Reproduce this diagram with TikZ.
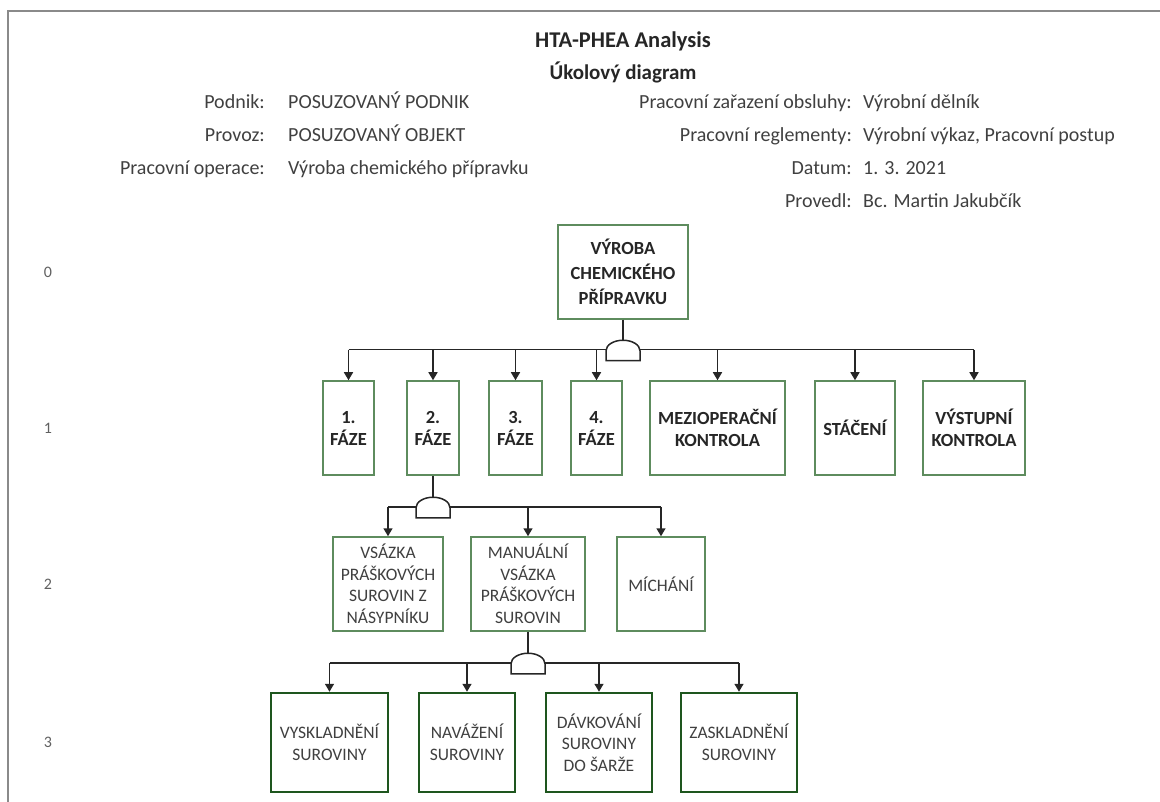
\documentclass[tikz,border=0pt]{standalone}
\usepackage{fontspec}
\setmainfont{Carlito}
\usetikzlibrary{arrows.meta}

\definecolor{boxgreen}{HTML}{5E8C5E}
\definecolor{darkgreen}{HTML}{1E561E}
\definecolor{txt}{HTML}{404040}
\definecolor{txtdark}{HTML}{262626}
\definecolor{framegray}{HTML}{8A8A8A}
\definecolor{wirecol}{HTML}{262626}
\definecolor{levelgray}{HTML}{606060}

\tikzset{
  lbl/.style={anchor=base east, text=txt, font=\fontsize{20}{24}\selectfont, inner sep=0pt},
  val/.style={anchor=base west, text=txt, font=\fontsize{20}{24}\selectfont, inner sep=0pt},
  ttl/.style={anchor=base, text=txtdark, font=\bfseries\fontsize{22.5}{26}\selectfont, inner sep=0pt},
  levelno/.style={text=levelgray, font=\fontsize{16}{19}\selectfont, inner sep=0pt},
  task/.style={draw=boxgreen, line width=1.5pt, fill=white, align=center, inner sep=0pt},
  taskbold/.style={task, text=txtdark, font=\bfseries\fontsize{18.5}{22}\selectfont},
  taskplain/.style={task, text=txt, font=\fontsize{17.5}{21.5}\selectfont},
  leaf/.style={taskplain, draw=darkgreen, line width=2.5pt},
  wire/.style={draw=wirecol, line width=1.5pt},
  arr/.style={wire, -{Triangle[width=9pt,length=8pt]}},
  andgate/.pic={
    \draw[wire, fill=white] (-17,11) -- (-17,1)
      arc[start angle=180, end angle=360, x radius=17, y radius=10.5]
      -- (17,11) -- cycle;
  },
}

\begin{document}
\begin{tikzpicture}[x=1pt, y=-1pt]
  \useasboundingbox (0,0) rectangle (1160,802);

  % page frame (top and left edges)
  \draw[framegray, line width=2pt] (8,802) -- (8,11.5) -- (1160,11.5);

  % heading
  \node[ttl] (title) at (623,48) {HTA-PHEA Analysis};
  \node[ttl, font=\bfseries\fontsize{21}{25}\selectfont] (subtitle) at (623,80) {Úkolový diagram};

  % header fields, left column
  \node[lbl] (l1) at (265,109) {Podnik:};
  \node[val] (v1) at (288,109) {POSUZOVANÝ PODNIK};
  \node[lbl] (l2) at (265,142) {Provoz:};
  \node[val] (v2) at (288,142) {POSUZOVANÝ OBJEKT};
  \node[lbl] (l3) at (265,175) {Pracovní operace:};
  \node[val] (v3) at (288,175) {Výroba chemického přípravku};

  % header fields, right column
  \node[lbl] (r1) at (852,109) {Pracovní zařazení obsluhy:};
  \node[val] (w1) at (863,109) {Výrobní dělník};
  \node[lbl] (r2) at (852,142) {Pracovní reglementy:};
  \node[val] (w2) at (863,142) {Výrobní výkaz, Pracovní postup};
  \node[lbl] (r3) at (852,175) {Datum:};
  \node[val] (w3) at (863,175) {1. 3. 2021};
  \node[lbl] (r4) at (852,208) {Provedl:};
  \node[val] (w4) at (863,208) {Bc. Martin Jakubčík};

  % level numbers
  \node[levelno] (n0) at (48,272) {0};
  \node[levelno] (n1) at (48,428) {1};
  \node[levelno] (n2) at (48,584) {2};
  \node[levelno] (n3) at (48,742) {3};

  % level 0
  \node[taskbold, font=\bfseries\fontsize{18.5}{25}\selectfont,
        minimum width=130pt, minimum height=94pt] (root) at (623,272)
    {VÝROBA\\CHEMICKÉHO\\PŘÍPRAVKU};

  % level 1
  \node[taskbold, minimum width=51pt,  minimum height=94pt] (f1)   at (348.5,428) {1.\\FÁZE};
  \node[taskbold, minimum width=52pt,  minimum height=94pt] (f2)   at (433,428)   {2.\\FÁZE};
  \node[taskbold, minimum width=53pt,  minimum height=94pt] (f3)   at (515.5,428) {3.\\FÁZE};
  \node[taskbold, minimum width=51pt,  minimum height=94pt] (f4)   at (596.5,428) {4.\\FÁZE};
  \node[taskbold, minimum width=135pt, minimum height=94pt] (mezi) at (717.5,428) {MEZIOPERAČNÍ\\KONTROLA};
  \node[taskbold, minimum width=80pt,  minimum height=94pt] (stac) at (855,428)   {STÁČENÍ};
  \node[taskbold, minimum width=102pt, minimum height=94pt] (vyst) at (974,428)   {VÝSTUPNÍ\\KONTROLA};

  % level 2
  \node[taskplain, minimum width=110pt, minimum height=94pt] (vsaz) at (388,584) {VSÁZKA\\PRÁŠKOVÝCH\\SUROVIN Z\\NÁSYPNÍKU};
  \node[taskplain, minimum width=114pt, minimum height=94pt] (manu) at (528,584) {MANUÁLNÍ\\VSÁZKA\\PRÁŠKOVÝCH\\SUROVIN};
  \node[taskplain, minimum width=88pt,  minimum height=94pt] (mich) at (661,584) {MÍCHÁNÍ};

  % level 3
  \node[leaf, minimum width=117pt, minimum height=99pt] (vysk)  at (329.5,742.5) {VYSKLADNĚNÍ\\SUROVINY};
  \node[leaf, minimum width=96pt,  minimum height=99pt] (navaz) at (467,742.5)   {NAVÁŽENÍ\\SUROVINY};
  \node[leaf, minimum width=106pt, minimum height=99pt] (davk)  at (599,742.5)   {DÁVKOVÁNÍ\\SUROVINY\\DO ŠARŽE};
  \node[leaf, minimum width=116pt, minimum height=99pt] (zask)  at (739,742.5)   {ZASKLADNĚNÍ\\SUROVINY};

  % decomposition points (bus level under each parent)
  \path (root.south) ++(0,30) coordinate (g0);
  \path (f2.south)   ++(0,31) coordinate (g1);
  \path (manu.south) ++(0,31) coordinate (g2);

  % root -> level 1
  \draw[wire] (root.south) -- (g0);
  \draw[wire] (f1.north |- g0) -- (vyst.north |- g0);
  \foreach \c in {f1,f2,f3,f4,mezi,stac,vyst}
    \draw[arr] (\c.north |- g0) -- (\c.north);
  \pic at (g0) {andgate};

  % 2. FÁZE -> level 2
  \draw[wire] (f2.south) -- (g1);
  \draw[wire] (vsaz.north |- g1) -- (mich.north |- g1);
  \foreach \c in {vsaz,manu,mich}
    \draw[arr] (\c.north |- g1) -- (\c.north);
  \pic at (g1) {andgate};

  % MANUÁLNÍ VSÁZKA -> level 3
  \draw[wire] (manu.south) -- (g2);
  \draw[wire] (vysk.north |- g2) -- (zask.north |- g2);
  \foreach \c in {vysk,navaz,davk,zask}
    \draw[arr] (\c.north |- g2) -- (\c.north);
  \pic at (g2) {andgate};
\end{tikzpicture}
\end{document}
